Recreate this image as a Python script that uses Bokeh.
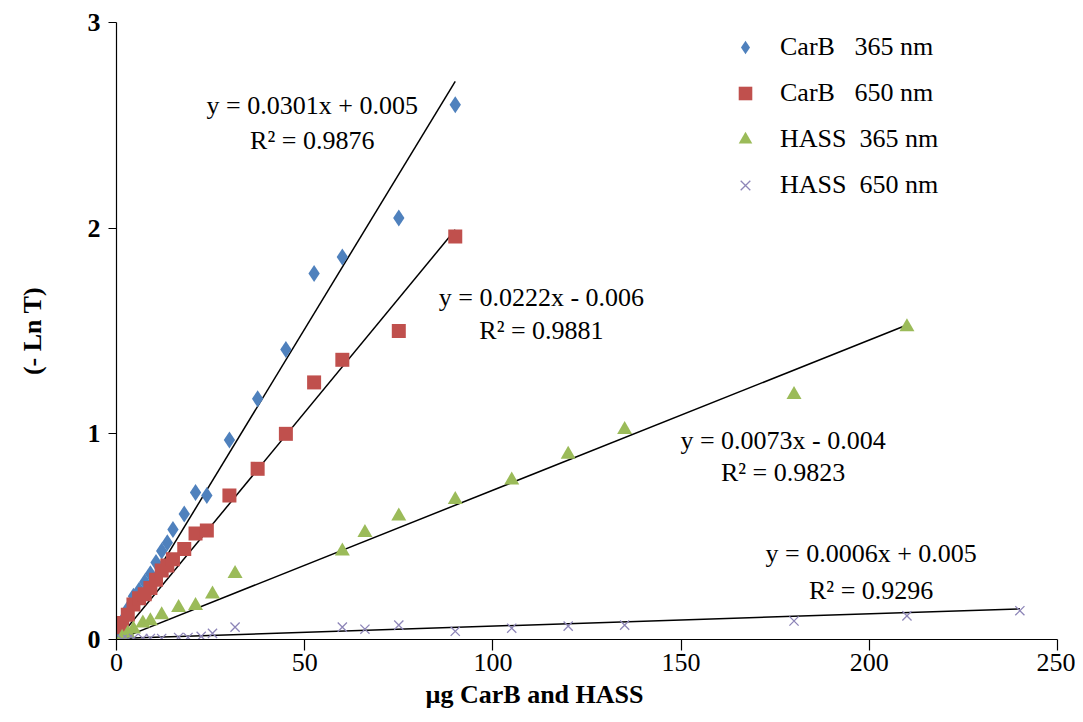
from bokeh.plotting import figure
from bokeh.models import Range1d, FixedTicker, Legend, LegendItem, Label, Title
from bokeh.embed import file_html
from bokeh.resources import INLINE

# ---------------- data ----------------
carb365_x = [0.5, 1.5, 3, 4.5, 6, 7.5, 9, 10.5, 12, 13.5, 15, 18, 21, 24, 30, 37.5, 45, 52.5, 60, 75, 90]
carb365_y = [0.04, 0.09, 0.15, 0.21, 0.24, 0.28, 0.32, 0.375, 0.43, 0.47, 0.535, 0.61, 0.715, 0.70, 0.97, 1.17, 1.41, 1.78, 1.86, 2.05, 2.60]

carb650_x = [0.5, 1.5, 3, 4.5, 6, 7.5, 9, 10.5, 12, 13.5, 15, 18, 21, 24, 30, 37.5, 45, 52.5, 60, 75, 90]
carb650_y = [0.06, 0.08, 0.12, 0.17, 0.20, 0.22, 0.25, 0.29, 0.335, 0.36, 0.39, 0.44, 0.515, 0.53, 0.70, 0.83, 1.00, 1.25, 1.36, 1.50, 1.96]

hass365_x = [1.5, 3, 4.5, 7, 9, 12, 16.5, 21, 25.5, 31.5, 60, 66, 75, 90, 105, 120, 135, 180, 210]
hass365_y = [0.01, 0.03, 0.05, 0.08, 0.09, 0.12, 0.155, 0.165, 0.22, 0.32, 0.43, 0.52, 0.60, 0.68, 0.775, 0.90, 1.02, 1.19, 1.52]

hass650_x = [1.5, 3, 4.5, 7, 9, 12, 16.5, 19, 22.5, 25.5, 31.5, 60, 66, 75, 90, 105, 120, 135, 180, 210, 240]
hass650_y = [0.0, 0.0, 0.005, 0.005, 0.005, 0.005, 0.01, 0.01, 0.015, 0.03, 0.06, 0.06, 0.05, 0.07, 0.04, 0.055, 0.065, 0.07, 0.09, 0.115, 0.14]

series_names = ["CarB\u00a0\u00a0\u00a0365 nm", "CarB\u00a0\u00a0\u00a0650 nm", "HASS\u00a0\u00a0365 nm", "HASS\u00a0\u00a0650 nm"]
fit_slope = [0.0301, 0.0222, 0.0073, 0.0006]
fit_intercept = [0.005, -0.006, -0.004, 0.005]
fit_eq = ["y = 0.0301x + 0.005", "y = 0.0222x - 0.006", "y = 0.0073x - 0.004", "y = 0.0006x + 0.005"]
fit_r2 = ["R\u00b2 = 0.9876", "R\u00b2 = 0.9881", "R\u00b2 = 0.9823", "R\u00b2 = 0.9296"]

x_ticks = [0, 50, 100, 150, 200, 250]
y_ticks = [0, 1, 2, 3]
x_title = "\u00b5g CarB and HASS"
y_title = "(- Ln T)"

FONT = "Times New Roman"
FS = "26px"

p = figure(width=1075, height=714, output_backend="svg", toolbar_location=None,
           x_range=Range1d(0, 250), y_range=Range1d(0, 3),
           min_border_left=116, min_border_right=18, min_border_top=22, min_border_bottom=75)
p.outline_line_color = None
p.xgrid.visible = False
p.ygrid.visible = False
p.background_fill_color = "white"

# axes
p.xaxis.ticker = FixedTicker(ticks=x_ticks)
p.yaxis.ticker = FixedTicker(ticks=y_ticks)
for ax in (p.xaxis[0], p.yaxis[0]):
    ax.axis_line_color = "black"
    ax.axis_line_width = 1.2
    ax.major_tick_line_color = "black"
    ax.major_tick_line_width = 1.2
    ax.major_tick_in = 0
    ax.minor_tick_line_color = None
    ax.major_label_text_font = FONT
    ax.major_label_text_font_size = FS
    ax.major_label_text_color = "black"
p.xaxis.major_tick_out = 11
p.yaxis.major_tick_out = 8
p.xaxis.major_label_standoff = 3
p.yaxis.major_label_standoff = 8
p.yaxis.major_label_text_font_style = "bold"

p.yaxis.axis_label = y_title
p.yaxis.axis_label_text_font = FONT
p.yaxis.axis_label_text_font_size = FS
p.yaxis.axis_label_text_font_style = "bold"
p.yaxis.axis_label_text_color = "black"
p.yaxis.axis_label_standoff = 38

# x-axis title as a title placed below the axis, shifted to the reference position
xt = Title(text=x_title, align="left", offset=309, standoff=8,
           text_font=FONT, text_font_size=FS, text_font_style="bold", text_color="black")
p.add_layout(xt, "below")

# trend lines
xs_all = [carb365_x, carb650_x, hass365_x, hass650_x]
for xs, m, b in zip(xs_all, fit_slope, fit_intercept):
    x0, x1 = 0, max(xs)
    p.line([x0, x1], [m * x0 + b, m * x1 + b], line_color="black", line_width=1.5)

# markers
r1 = p.scatter(carb365_x, carb365_y, marker="diamond", size=17, fill_color="#4F81BD", line_color=None)
r2 = p.scatter(carb650_x, carb650_y, marker="square", size=14, fill_color="#C0504D", line_color=None)
r3 = p.scatter(hass365_x, hass365_y, marker="triangle", size=15, fill_color="#9BBB59", line_color=None)
r4 = p.scatter(hass650_x, hass650_y, marker="x", size=13, line_color="#8E86B8", line_width=1.3)

# legend
legend = Legend(items=[LegendItem(label=n, renderers=[r]) for n, r in zip(series_names, [r1, r2, r3, r4])],
                location=(612, 437), orientation="vertical")
legend.label_text_font = FONT
legend.label_text_font_size = FS
legend.label_text_color = "black"
legend.border_line_color = None
legend.background_fill_alpha = 0
legend.padding = 0
legend.margin = 0
legend.spacing = 12
legend.glyph_width = 34
legend.glyph_height = 34
legend.label_height = 34
legend.label_standoff = 18
p.add_layout(legend, "center")

# equations
eq_pos = [(52.0, 2.596, 2.426), (112.9, 1.663, 1.502), (177.1, 0.968, 0.812), (200.5, 0.418, 0.238)]
for (lx, ly1, ly2), eq, r2t in zip(eq_pos, fit_eq, fit_r2):
    p.add_layout(Label(x=lx, y=ly1, text=eq, text_font=FONT, text_font_size=FS, text_align="center",
                       text_baseline="middle", text_color="black"))
    p.add_layout(Label(x=lx, y=ly2, text=r2t, text_font=FONT, text_font_size=FS, text_align="center",
                       text_baseline="middle", text_color="black"))

open("out.html", "w").write(file_html(p, INLINE))
